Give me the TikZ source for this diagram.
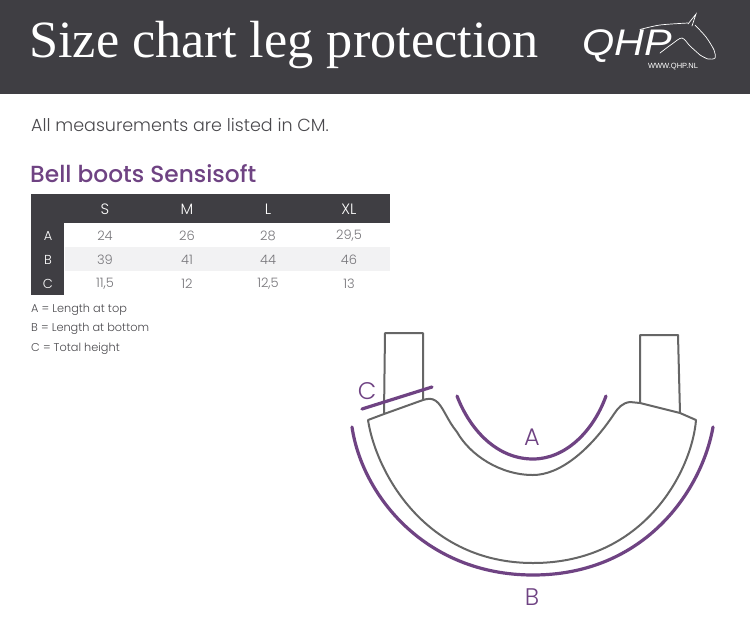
\documentclass[tikz,border=0pt]{standalone}
\usepackage{fontspec}
\setmainfont{Poppins Light}
\newfontfamily\medfont{Poppins Medium}
\newfontfamily\titlefont{Liberation Serif}
\newfontfamily\logofont{Liberation Sans}
\definecolor{barc}{HTML}{3F3E43}
\definecolor{bandc}{HTML}{F2F2F3}
\definecolor{purp}{HTML}{6F4383}
\definecolor{greyl}{HTML}{666666}
\definecolor{txt}{HTML}{4A494D}
\definecolor{cellc}{HTML}{77767A}
\tikzset{
  head/.style={text=white,font=\fontsize{15}{15}\selectfont,anchor=center},
  rowh/.style={text=white,font=\fontsize{13}{13}\selectfont,anchor=center},
  cell/.style={text=cellc,font=\fontsize{13}{13}\selectfont,anchor=center},
  legend/.style={text=txt,font=\fontsize{11.3}{11.3}\selectfont,anchor=west},
  outline/.style={draw=greyl,line width=2pt,line join=round},
  meas/.style={draw=purp,line width=3.2pt,line cap=round},
  measlab/.style={text=purp,font=\fontsize{24}{24}\selectfont,anchor=center},
  logol/.style={draw=white,line width=.7pt,line cap=round}
}
\begin{document}
\begin{tikzpicture}[x=1pt,y=-1pt]
\useasboundingbox (0,0) rectangle (750,633);
\fill[white] (0,0) rectangle (750,633);
\fill[barc] (0,0) rectangle (750,94);
\node[text=white,anchor=west,inner sep=0pt,font=\titlefont\fontsize{52.3}{52.3}\selectfont] (title) at (29,45) {Size chart leg protection};
% logo
\node[text=white,anchor=center,inner sep=0pt,xscale=1.12,font=\logofont\itshape\fontsize{37}{37}\selectfont] (qhp) at (627,46) {QHP};
\node[text=white,anchor=center,inner sep=0pt,font=\logofont\fontsize{7.5}{7.5}\selectfont] (www) at (673,67) {WWW.QHP.NL};
\draw[logol] plot[smooth] coordinates {(640,29.5) (660,25) (688,23)};
\draw[logol] (688,24) -- (696,14) -- (692,26);
\draw[logol] plot[smooth] coordinates {(695,25) (706,37) (714,50) (715,58) (708,59) (700,55)};
\draw[logol] plot[smooth] coordinates {(660,53) (672,44) (682,38) (690,46) (700,55)};
% intro
\node[text=txt,anchor=west,inner sep=0pt,font=\fontsize{17.5}{17.5}\selectfont] (intro) at (31,125) {All measurements are listed in CM.};
\node[text=purp,anchor=west,inner sep=0pt,font=\medfont\fontsize{23.3}{23.3}\selectfont] (sub) at (30,174) {Bell boots Sensisoft};
% table
\fill[barc] (31,194) rectangle (390,223);
\fill[barc] (31,223) rectangle (64,295);
\fill[bandc] (65,247) rectangle (390,271);
\node[head] (hs) at (105,209) {S};
\node[head] (hm) at (187,209) {M};
\node[head] (hl) at (268,209) {L};
\node[head] (hxl) at (349,209) {XL};
\node[rowh] (ra) at (48,236) {A};
\node[rowh] (rb) at (48,260) {B};
\node[rowh] (rc) at (48,284) {C};
\node[cell] (a1) at (105,236) {24};
\node[cell] (a2) at (187,236) {26};
\node[cell] (a3) at (268,236) {28};
\node[cell] (a4) at (349,236) {29,5};
\node[cell] (b1) at (105,260) {39};
\node[cell] (b2) at (187,260) {41};
\node[cell] (b3) at (268,260) {44};
\node[cell] (b4) at (349,260) {46};
\node[cell] (c1) at (105,284) {11,5};
\node[cell] (c2) at (187,284) {12};
\node[cell] (c3) at (268,284) {12,5};
\node[cell] (c4) at (349,284) {13};
\node[legend,inner sep=0pt] (la) at (31,309.5) {A = Length at top};
\node[legend,inner sep=0pt] (lb) at (31,329) {B = Length at bottom};
\node[legend,inner sep=0pt] (lc) at (31,348.5) {C = Total height};
% boot
\draw[outline] (384,414) -- (385,333) -- (423,333) -- (423,400);
\draw[outline] (640,403) -- (640,335) -- (678,335) -- (680,413);
\draw[outline] (368,420) -- (384,414) -- (423,400)
  .. controls (428,398.5) and (432,398) .. (436,401)
  .. controls (443,406) and (447,420) .. (457,432)
  .. controls (470,455) and (500,475) .. (533,475)
  .. controls (560,475) and (590,450) .. (614,414)
  .. controls (618,408) and (622,403) .. (630,402)
  -- (640,403) -- (680,413) -- (696,420)
  .. controls (692,470) and (645,563) .. (533,563)
  .. controls (425,563) and (376,472) .. (368,420) -- cycle;
% measures
\draw[meas] (352,427) .. controls (362,495) and (425,575) .. (533,575)
  .. controls (645,575) and (702,490) .. (713,427);
\draw[meas] (457,396) .. controls (470,430) and (497,459) .. (533,459)
  .. controls (565,459) and (593,432) .. (606,396);
\draw[meas] (362,409) -- (432,387);
\node[measlab,inner sep=0pt] (mc) at (367,391) {C};
\node[measlab,inner sep=0pt] (ma) at (532,437) {A};
\node[measlab,inner sep=0pt] (mb) at (532,597) {B};
\end{tikzpicture}
\end{document}
